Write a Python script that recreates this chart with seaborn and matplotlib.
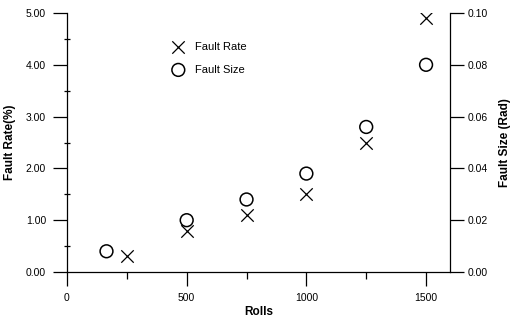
import matplotlib
matplotlib.use("Agg")
import matplotlib.pyplot as plt
import seaborn as sns
import pandas as pd
from matplotlib.ticker import MultipleLocator, FormatStrFormatter

sns.set_theme(style="white")
plt.rcParams['font.family'] = ['Liberation Sans', 'DejaVu Sans']
plt.rcParams['text.color'] = 'black'
plt.rcParams['axes.labelcolor'] = 'black'
plt.rcParams['xtick.color'] = 'black'
plt.rcParams['ytick.color'] = 'black'

rate_rolls = [250, 500, 750, 1000, 1250, 1500]
fault_rate = [0.3, 0.8, 1.1, 1.5, 2.5, 4.9]
size_rolls = [165, 500, 750, 1000, 1250, 1500]
fault_size = [0.008, 0.020, 0.028, 0.038, 0.056, 0.080]

df_rate = pd.DataFrame({"Rolls": rate_rolls, "Fault Rate": fault_rate})
df_size = pd.DataFrame({"Rolls": size_rolls, "Fault Size": fault_size})

fig = plt.figure(figsize=(5.17, 3.24), dpi=100)
ax = fig.add_axes([67/517, 1-272/324, (450-67)/517, (272-13)/324])
ax2 = ax.twinx()

sns.scatterplot(data=df_rate, x="Rolls", y="Fault Rate", ax=ax, marker="x",
                s=80, color="black", linewidth=0.9, label="Fault Rate", legend=False)
sns.scatterplot(data=df_size, x="Rolls", y="Fault Size", ax=ax2, marker="o",
                s=85, facecolor="none", edgecolor="black", linewidth=1.1,
                label="Fault Size", legend=False)

ax.set_xlim(0, 1600)
ax.set_ylim(0, 5)
ax2.set_ylim(0, 0.10)

ax.xaxis.set_major_locator(MultipleLocator(500))
ax.xaxis.set_minor_locator(MultipleLocator(250))
ax.yaxis.set_major_locator(MultipleLocator(1))
ax.yaxis.set_minor_locator(MultipleLocator(0.5))
ax.yaxis.set_major_formatter(FormatStrFormatter("%.2f"))
ax2.yaxis.set_major_locator(MultipleLocator(0.02))
ax2.yaxis.set_major_formatter(FormatStrFormatter("%.2f"))

for a in (ax, ax2):
    for s in a.spines.values():
        s.set_color("black")
        s.set_linewidth(0.9)
    a.spines["top"].set_visible(False)
    a.grid(False)
    a.set_facecolor("none")

ax.spines["right"].set_visible(False)
ax2.spines["left"].set_visible(False)
ax2.spines["bottom"].set_visible(False)

ax.tick_params(axis="both", which="major", direction="out", length=10, width=0.9,
               color="black", labelcolor="black", labelsize=7.5, pad=5,
               left=True, bottom=True)
ax.tick_params(axis="x", which="minor", direction="out", length=5, width=0.9,
               color="black", bottom=True)
ax.tick_params(axis="y", which="minor", direction="inout", length=5, width=0.9,
               color="black", left=True)
ax2.tick_params(axis="y", which="major", direction="out", length=10, width=0.9,
                color="black", labelcolor="black", labelsize=7.5, pad=3, right=True)

ax.set_xlabel("Rolls", fontsize=8.5, fontweight="bold", labelpad=2, color="black")
ax.set_ylabel("Fault Rate(%)", fontsize=8.5, fontweight="bold", labelpad=7, color="black")
ax2.set_ylabel("Fault Size (Rad)", fontsize=8.5, fontweight="bold", labelpad=8, color="black")

h1, l1 = ax.get_legend_handles_labels()
h2, l2 = ax2.get_legend_handles_labels()
leg = ax2.legend(h1 + h2, l1 + l2, loc="upper left", bbox_to_anchor=(0.25, 0.905),
                 frameon=False, fontsize=8, handletextpad=0.5, labelspacing=1.15,
                 borderaxespad=0)
for t in leg.get_texts():
    t.set_color("black")

fig.savefig("out.png", dpi=100)
